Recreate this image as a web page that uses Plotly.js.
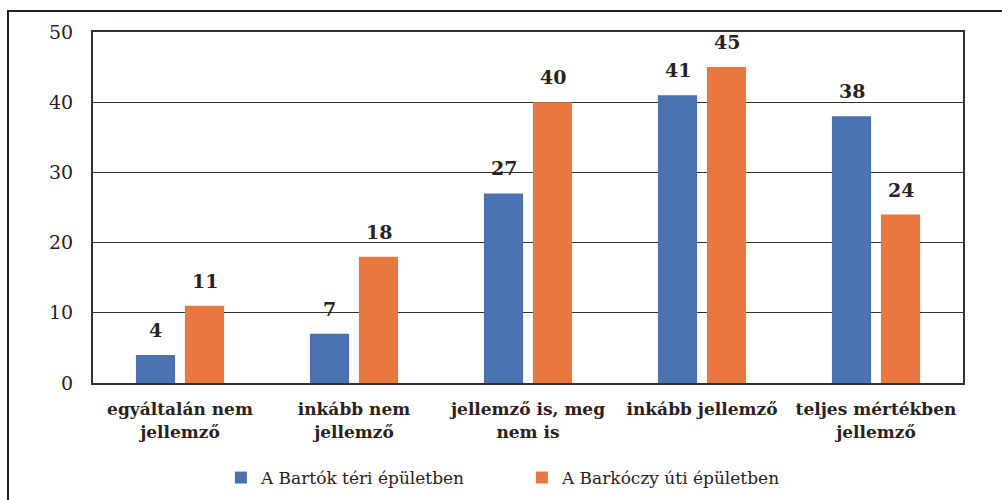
<!DOCTYPE html>
<html>
<head>
<meta charset="utf-8">
<script src="https://cdn.plot.ly/plotly-3.0.1.min.js"></script>
<style>
  html, body { margin: 0; padding: 0; background: #fff; }
  #chart { width: 1002px; height: 500px; }
</style>
</head>
<body>
<div id="chart"></div>
<script>
const categories = [
  "egyáltalán nem<br>jellemző",
  "inkább nem<br>jellemző",
  "jellemző is, meg<br>nem is",
  "inkább jellemző",
  "teljes mértékben<br>jellemző"
];
const seriesNames = ["A Bartók téri épületben", "A Barkóczy úti épületben"];
const bartokValues = [4, 7, 27, 41, 38];
const barkoczyValues = [11, 18, 40, 45, 24];
const yTickValues = [0, 10, 20, 30, 40, 50];

const textColor = "#2b211d";
const blue = "#4a72b0";
const orange = "#e97740";
const fontFamily = "DejaVu Serif";

const traces = [
  { type: "bar", name: seriesNames[0], x: categories, y: bartokValues,
    marker: { color: blue }, hoverinfo: "none" },
  { type: "bar", name: seriesNames[1], x: categories, y: barkoczyValues,
    marker: { color: orange }, hoverinfo: "none" }
];

const annotations = [];
[bartokValues, barkoczyValues].forEach((vals, si) => {
  vals.forEach((v, i) => {
    annotations.push({
      x: categories[i], y: v, xref: "x", yref: "y",
      text: "<b>" + v + "</b>", showarrow: false,
      xshift: si === 0 ? -24.5 : 24.5, yshift: 12, yanchor: "bottom",
      font: { family: fontFamily, size: 19, color: textColor }
    });
  });
});

const layout = {
  width: 1002, height: 500,
  margin: { l: 93, r: 39, t: 32, b: 117, autoexpand: false },
  paper_bgcolor: "#ffffff", plot_bgcolor: "#ffffff",
  font: { family: fontFamily, color: textColor, size: 18 },
  barmode: "group", bargap: 0.437, bargroupgap: 0.2,
  showlegend: true,
  legend: {
    orientation: "h", x: 0.147, y: 0.044, xref: "paper", yref: "container",
    xanchor: "left", yanchor: "middle",
    font: { family: fontFamily, size: 17, color: textColor },
    itemwidth: 30, traceorder: "normal", entrywidth: 256, entrywidthmode: "pixels"
  },
  xaxis: {
    tickfont: { family: fontFamily, size: 17, color: textColor, weight: "bold" },
    showline: true, linecolor: "#3a2e29", linewidth: 2, mirror: true,
    ticks: "", ticklabelstandoff: 10,
    showgrid: false, fixedrange: true, automargin: false
  },
  yaxis: {
    range: [0, 50], tickvals: yTickValues, ticktext: yTickValues.map(String),
    tickfont: { family: fontFamily, size: 19, color: textColor },
    showgrid: true, gridcolor: "#3a2e29", gridwidth: 1,
    showline: true, linecolor: "#3a2e29", linewidth: 2, mirror: true,
    ticks: "", ticklabelstandoff: 14,
    zeroline: false, fixedrange: true, automargin: false
  },
  annotations: annotations,
  shapes: [{
    type: "rect", xref: "paper", yref: "paper",
    x0: -0.0977, x1: 1.046, y0: -0.36, y1: 1.0598,
    line: { color: "#2b1d17", width: 2 }, fillcolor: "rgba(0,0,0,0)", layer: "below"
  }]
};

Plotly.newPlot("chart", traces, layout, { displayModeBar: false, staticPlot: true });
</script>
</body>
</html>
